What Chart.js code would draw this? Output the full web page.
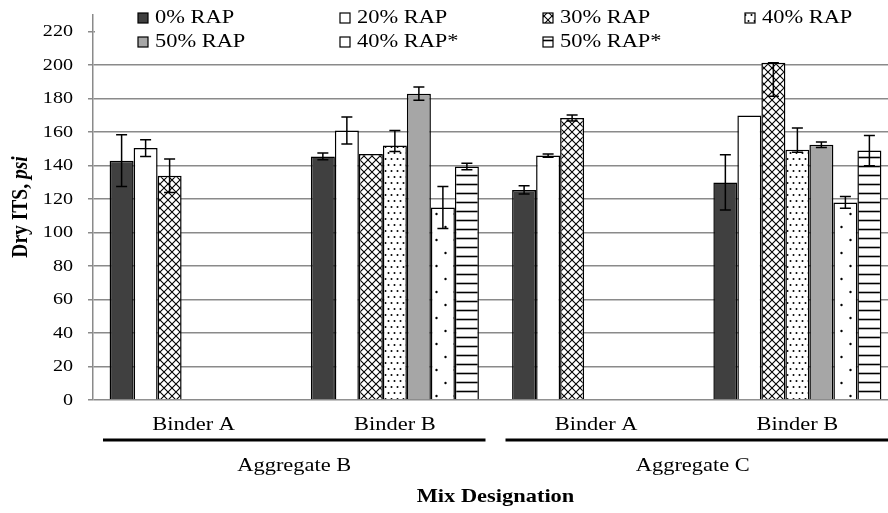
<!DOCTYPE html>
<html>
<head>
<meta charset="utf-8">
<script src="https://cdn.jsdelivr.net/npm/chart.js"></script>
<style>
  body { margin: 0; overflow: hidden; background: #fff; }
  #wrap { width: 912px; height: 513px; }
</style>
</head>
<body>
<div id="wrap"><canvas id="myChart" width="912" height="513"></canvas></div>
<script>
// categories
const labels = ['Binder A', 'Binder B', 'Binder A', 'Binder B'];
const groups = ['Aggregate B', 'Aggregate C'];
const yTicks = [0, 20, 40, 60, 80, 100, 120, 140, 160, 180, 200, 220];

// series values (psi), null = not tested
const rap0   = [143, 145.5, 125.5, 130];
const rap20  = [150.5, 161, 146, 170];
const rap30  = [134, 147, 168.5, 201.5];
const rap40  = [null, 152, null, 149.5];
const rap50  = [null, 183, null, 152.5];
const rap40s = [null, 115, null, 118];
const rap50s = [null, 139.5, null, 149];

// error bars, number = +/- , [minus, plus] when uneven
const err0   = [15.5, 2, 2.5, 16.5];
const err20  = [5, 8, 1, 0];
const err30  = [10, 0, 1.8, [20, 0]];
const err40  = [null, [3.5, 9], null, [1.5, 13]];
const err50  = [null, 4, null, 1.7];
const err40s = [null, 12.5, null, 3.5];
const err50s = [null, 2, null, 9];

const names = ['0% RAP', '20% RAP', '30% RAP', '40% RAP', '50% RAP', '40% RAP*', '50% RAP*'];

function makePattern(w, h, draw) {
  const c = document.createElement('canvas');
  c.width = w; c.height = h;
  const g = c.getContext('2d');
  g.fillStyle = '#fff';
  g.fillRect(0, 0, w, h);
  g.strokeStyle = '#000';
  g.fillStyle = '#000';
  draw(g);
  return g.createPattern(c, 'repeat');
}

const ctx = document.getElementById('myChart').getContext('2d');

const cross = makePattern(8, 8, g => {
  g.lineWidth = 1.1;
  g.beginPath();
  g.moveTo(-1, -1); g.lineTo(9, 9);
  g.moveTo(9, -1); g.lineTo(-1, 9);
  g.stroke();
});
const dots = makePattern(6, 12, g => {
  g.beginPath(); g.arc(1.5, 3, 1, 0, Math.PI * 2); g.fill();
  g.beginPath(); g.arc(4.5, 9, 1, 0, Math.PI * 2); g.fill();
});
const sparse = makePattern(18, 26, g => {
  g.beginPath(); g.arc(4.5, 6, 1.2, 0, Math.PI * 2); g.fill();
  g.beginPath(); g.arc(13.5, 19, 1.2, 0, Math.PI * 2); g.fill();
});
const hlines = makePattern(8, 9, g => {
  g.lineWidth = 1.6;
  g.beginPath(); g.moveTo(0, 4.5); g.lineTo(8, 4.5); g.stroke();
});

const fills = ['#404040', '#ffffff', cross, dots, '#a6a6a6', sparse, hlines];
const values = [rap0, rap20, rap30, rap40, rap50, rap40s, rap50s];
const errors = [err0, err20, err30, err40, err50, err40s, err50s];

const SX = 1.15; // text in the figure is a bit wide
const serif = '"Liberation Serif", "Times New Roman", serif';

function wideText(c, text, x, y, font, align) {
  c.save();
  c.font = font;
  c.textAlign = align || 'center';
  c.textBaseline = 'middle';
  c.translate(x, y);
  c.scale(SX, 1);
  c.fillText(text, 0, 0);
  c.restore();
}

const extras = {
  id: 'extras',
  afterDraw(chart) {
    const c = chart.ctx;
    const xs = chart.scales.x;
    const ys = chart.scales.y;
    const area = chart.chartArea;

    // error bars
    c.save();
    c.strokeStyle = '#000';
    c.lineWidth = 1.5;
    chart.data.datasets.forEach((ds, d) => {
      const meta = chart.getDatasetMeta(d);
      meta.data.forEach((el, i) => {
        const v = ds.data[i];
        const e = errors[d][i];
        if (v == null || e == null) return;
        const lo = v - (Array.isArray(e) ? e[0] : e);
        const hi = v + (Array.isArray(e) ? e[1] : e);
        if (hi === lo) return;
        const y1 = ys.getPixelForValue(lo);
        const y2 = ys.getPixelForValue(hi);
        c.beginPath();
        c.moveTo(el.x, y1); c.lineTo(el.x, y2);
        c.moveTo(el.x - 5.5, y1); c.lineTo(el.x + 5.5, y1);
        c.moveTo(el.x - 5.5, y2); c.lineTo(el.x + 5.5, y2);
        c.stroke();
      });
    });
    c.restore();

    // legend box
    c.save();
    c.fillStyle = '#fff';
    c.fillRect(95, 2, 810, 53);
    const colX = [155, 357, 560, 762];
    const rowY = [18, 42];
    c.fillStyle = '#000';
    names.forEach((n, k) => {
      const tx = colX[k % 4];
      const ty = rowY[Math.floor(k / 4)];
      c.fillStyle = fills[k];
      c.fillRect(tx - 17, ty - 5, 10, 10);
      c.strokeStyle = '#000';
      c.lineWidth = 1.2;
      c.strokeRect(tx - 17, ty - 5, 10, 10);
      c.fillStyle = '#000';
      wideText(c, n, tx, ty, '19.5px ' + serif, 'left');
    });
    c.restore();

    // y tick labels
    c.save();
    c.fillStyle = '#000';
    yTicks.forEach(t => {
      wideText(c, String(t), 73, ys.getPixelForValue(t), '17.5px ' + serif, 'right');
    });

    // category labels
    labels.forEach((l, i) => {
      wideText(c, l, xs.getPixelForValue(i), 425, '19.5px ' + serif);
    });

    // group lines and names
    const bin = (area.right - area.left) / labels.length;
    c.strokeStyle = '#000';
    c.lineWidth = 3;
    groups.forEach((gname, k) => {
      const left = xs.getPixelForValue(k * 2) - bin / 2 + 10;
      const right = xs.getPixelForValue(k * 2 + 1) + bin / 2 - 10;
      c.beginPath();
      c.moveTo(left, 440); c.lineTo(right, 440);
      c.stroke();
      wideText(c, gname, (left + right) / 2 - (k ? 4 : 0), 466, '19.5px ' + serif);
    });

    // axis titles
    wideText(c, 'Mix Designation', (area.left + area.right) / 2, 497, 'bold 19.5px ' + serif);

    const f1 = 'bold 19.5px ' + serif;
    const f2 = 'italic bold 19.5px ' + serif;
    c.font = f1;
    const w1 = c.measureText('Dry ITS, ').width;
    c.font = f2;
    const w2 = c.measureText('psi').width;
    c.translate(21, 207);
    c.rotate(-Math.PI / 2);
    c.scale(1, SX);
    c.textBaseline = 'middle';
    c.textAlign = 'left';
    c.font = f1;
    c.fillText('Dry ITS, ', -(w1 + w2) / 2, 0);
    c.font = f2;
    c.fillText('psi', -(w1 + w2) / 2 + w1, 0);
    c.restore();
  }
};

const data = {
  labels: labels,
  datasets: names.map((n, k) => ({
    label: n,
    data: values[k],
    backgroundColor: fills[k],
    borderColor: '#000',
    borderWidth: 1.5,
    categoryPercentage: 0.835,
    barPercentage: 1.0
  }))
};

const config = {
  type: 'bar',
  data: data,
  options: {
    responsive: false,
    animation: false,
    devicePixelRatio: 1,
    layout: { padding: { top: 15, right: 14, left: 0, bottom: 0 } },
    plugins: { legend: { display: false }, tooltip: { enabled: false } },
    scales: {
      x: {
        grid: { display: false },
        border: { display: false },
        ticks: { display: false },
        afterFit: s => { s.height = 113; }
      },
      y: {
        min: 0,
        max: 230,
        ticks: { stepSize: 20, display: false },
        afterBuildTicks: s => { s.ticks = s.ticks.filter(t => t.value % 20 === 0); },
        grid: { color: '#8a8a8a', lineWidth: 1.5, tickLength: 5, drawTicks: true },
        border: { display: true, color: '#8a8a8a', width: 1.5 },
        afterFit: s => { s.width = 93; }
      }
    }
  },
  plugins: [extras]
};

const myChart = new Chart(ctx, config);
</script>
</body>
</html>
